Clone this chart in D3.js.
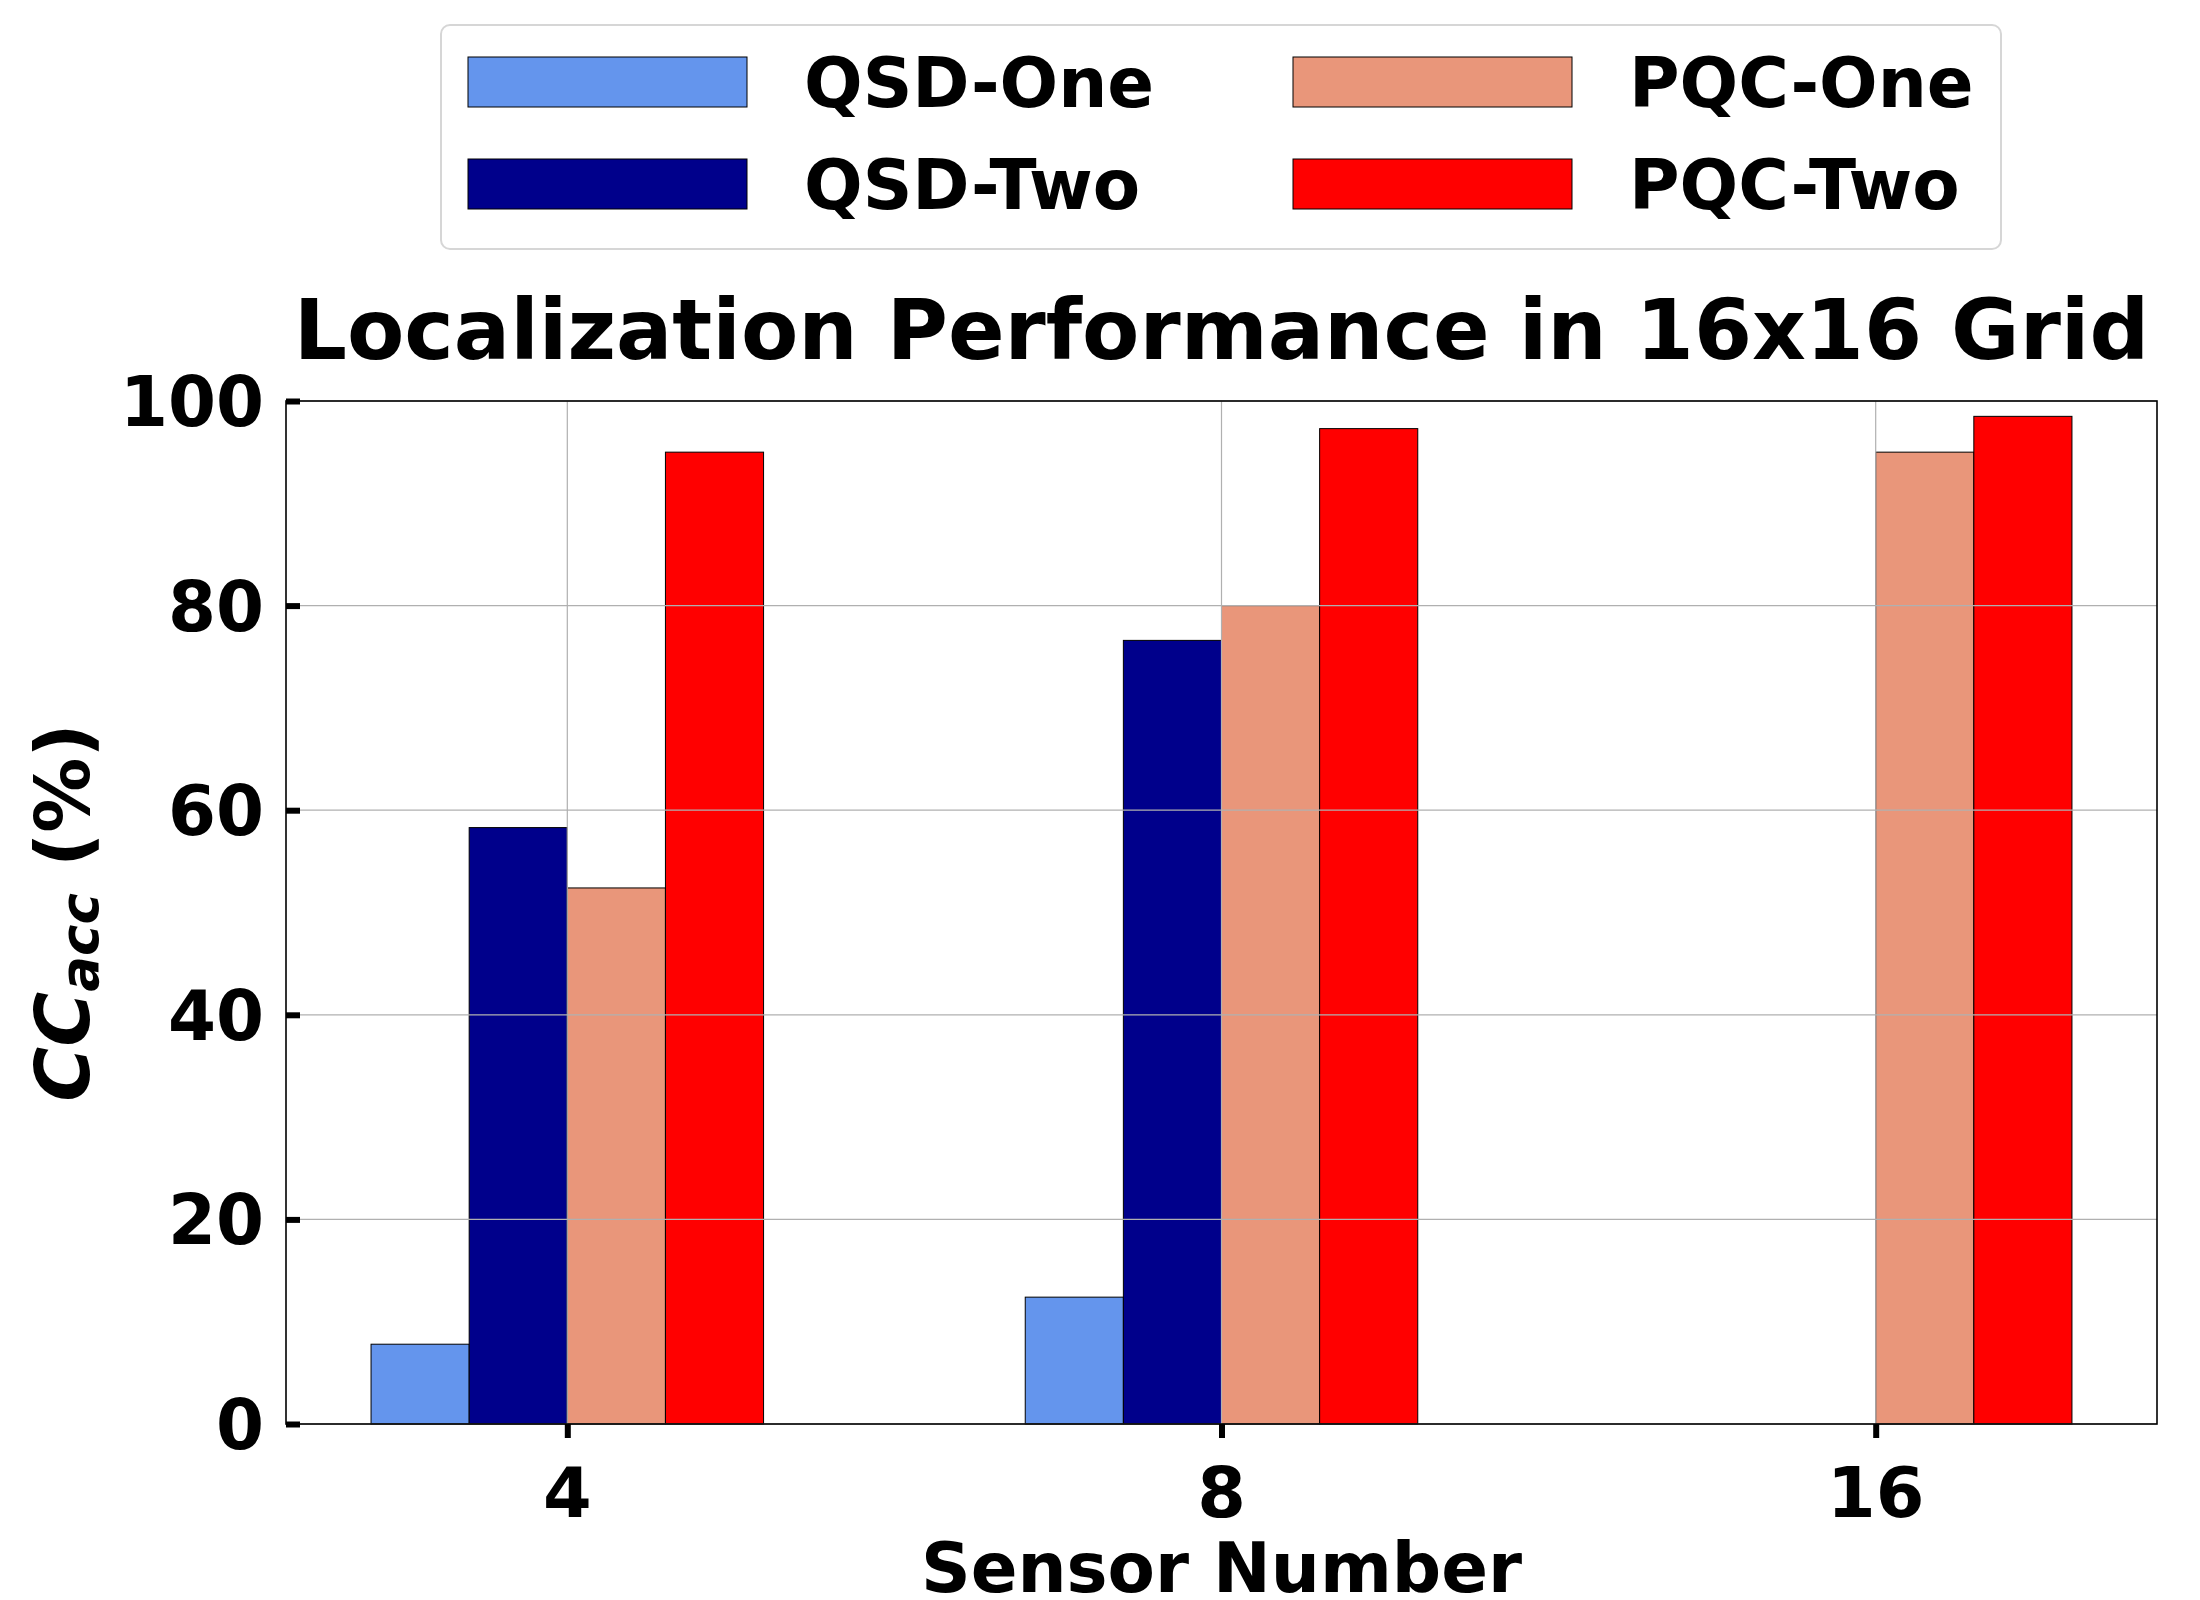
<!DOCTYPE html>
<html>
<head>
<meta charset="utf-8">
<script src="https://cdn.jsdelivr.net/npm/d3@7"></script>
<style>
    body { margin: 0; background: #fff; }
    text { font-family: "DejaVu Sans", sans-serif; font-weight: bold; fill: #000; }
</style>
</head>
<body>
<script>
(function(){

    //chart data
    var categories = ["4", "8", "16"];              //sensor numbers on the x axis
    var seriesNames = ["QSD-One", "QSD-Two", "PQC-One", "PQC-Two"];
    var qsdOne = [7.8, 12.4, 0];
    var qsdTwo = [58.3, 76.6, 0];
    var pqcOne = [52.4, 80.0, 95.0];
    var pqcTwo = [95.0, 97.3, 98.5];
    var yTicks = [0, 20, 40, 60, 80, 100];
    var seriesColors = ["#6495ED", "#00008B", "#E9967A", "#FF0000"];

    var seriesValues = [qsdOne, qsdTwo, pqcOne, pqcTwo];

    window.onload = setChart();

function setChart(){

    //frame dimensions
    var width = 2200,
        height = 1600;

    //plot area
    var left = 286, right = 2157, top = 401, bottom = 1424;
    var barWidth = 0.15; //in category units

    var svg = d3.select("body")
        .append("svg")
        .attr("width", width)
        .attr("height", height);

    //x scale over category index, with matplotlib style 5% margins
    var lo = -1.5 * barWidth - barWidth / 2,
        hi = (categories.length - 1) + 1.5 * barWidth + barWidth / 2,
        pad = (hi - lo) * 0.05;
    var x = d3.scaleLinear()
        .domain([lo - pad, hi + pad])
        .range([left, right]);

    var y = d3.scaleLinear()
        .domain([0, 100])
        .range([bottom, top]);

    //flatten series into bar records
    var bars = [];
    seriesValues.forEach(function(vals, j){
        vals.forEach(function(v, i){
            bars.push({series: j, cat: i, value: v});
        });
    });

    //bars
    svg.selectAll(".bar")
        .data(bars)
        .enter()
        .append("rect")
        .attr("class", "bar")
        .attr("x", function(d){ return x(d.cat + (d.series - 2) * barWidth); })
        .attr("width", function(d){ return x(barWidth) - x(0); })
        .attr("y", function(d){ return y(d.value); })
        .attr("height", function(d){ return y(0) - y(d.value); })
        .attr("fill", function(d){ return seriesColors[d.series]; })
        .attr("stroke", "#000")
        .attr("stroke-width", 1);

    //grid lines sit on top of the bars in the reference
    svg.selectAll(".hgrid")
        .data(yTicks)
        .enter()
        .append("line")
        .attr("class", "hgrid")
        .attr("x1", left).attr("x2", right)
        .attr("y1", function(d){ return y(d); })
        .attr("y2", function(d){ return y(d); })
        .attr("stroke", "#b0b0b0")
        .attr("stroke-width", 1.2);

    svg.selectAll(".vgrid")
        .data(categories)
        .enter()
        .append("line")
        .attr("class", "vgrid")
        .attr("x1", function(d, i){ return x(i); })
        .attr("x2", function(d, i){ return x(i); })
        .attr("y1", top).attr("y2", bottom)
        .attr("stroke", "#b0b0b0")
        .attr("stroke-width", 1.2);

    //frame
    svg.append("rect")
        .attr("x", left).attr("y", top)
        .attr("width", right - left)
        .attr("height", bottom - top)
        .attr("fill", "none")
        .attr("stroke", "#000")
        .attr("stroke-width", 1.6);

    //y axis: ticks point inward
    var yAxis = d3.axisRight(y)
        .tickValues(yTicks)
        .tickSize(14)
        .tickFormat("");
    var yg = svg.append("g")
        .attr("transform", "translate(" + left + ",0)")
        .call(yAxis);
    yg.select(".domain").remove();
    yg.selectAll("line").attr("stroke", "#000").attr("stroke-width", 6);

    svg.selectAll(".ylab")
        .data(yTicks)
        .enter()
        .append("text")
        .attr("class", "ylab")
        .attr("x", 264)
        .attr("y", function(d){ return y(d) + 25; })
        .attr("text-anchor", "end")
        .style("font-size", "69px")
        .text(function(d){ return d; });

    //x axis: ticks point outward
    var xAxis = d3.axisBottom(x)
        .tickValues(d3.range(categories.length))
        .tickSize(14)
        .tickFormat("");
    var xg = svg.append("g")
        .attr("transform", "translate(0," + bottom + ")")
        .call(xAxis);
    xg.select(".domain").remove();
    xg.selectAll("line").attr("stroke", "#000").attr("stroke-width", 6);

    svg.selectAll(".xlab")
        .data(categories)
        .enter()
        .append("text")
        .attr("class", "xlab")
        .attr("x", function(d, i){ return x(i); })
        .attr("y", 1517)
        .attr("text-anchor", "middle")
        .style("font-size", "70px")
        .text(function(d){ return d; });

    //axis titles
    var mid = (left + right) / 2;
    svg.append("text")
        .attr("x", mid)
        .attr("y", 1592)
        .attr("text-anchor", "middle")
        .style("font-size", "69px")
        .text("Sensor Number");

    var yTitle = svg.append("text")
        .attr("transform", "translate(89," + ((top + bottom) / 2) + ") rotate(-90)")
        .attr("text-anchor", "middle")
        .style("font-size", "75px");
    yTitle.append("tspan").style("font-style", "italic").text("CC");
    yTitle.append("tspan").style("font-style", "italic").style("font-size", "53px")
        .attr("dy", 9).text("acc");
    yTitle.append("tspan").attr("dy", -9).text("\u00a0(%)");

    //chart title
    svg.append("text")
        .attr("x", mid)
        .attr("y", 359)
        .attr("text-anchor", "middle")
        .style("font-size", "83.5px")
        .text("Localization Performance in 16x16 Grid");

    setLegend(svg);
};

function setLegend(svg){
    //legend frame
    svg.append("rect")
        .attr("x", 441).attr("y", 25)
        .attr("width", 1560).attr("height", 224)
        .attr("rx", 9).attr("ry", 9)
        .attr("fill", "#fff")
        .attr("fill-opacity", 0.8)
        .attr("stroke", "#d6d6d6")
        .attr("stroke-width", 2);

    //two columns, two rows
    var colX = [468, 1293],
        rowY = [57, 159];

    var items = svg.selectAll(".legendItem")
        .data(seriesNames)
        .enter()
        .append("g")
        .attr("class", "legendItem")
        .attr("transform", function(d, i){
            return "translate(" + colX[Math.floor(i / 2)] + "," + rowY[i % 2] + ")";
        });

    items.append("rect")
        .attr("width", 279)
        .attr("height", 50)
        .attr("fill", function(d){ return seriesColors[seriesNames.indexOf(d)]; })
        .attr("stroke", "#000")
        .attr("stroke-width", 1);

    items.append("text")
        .attr("x", 336)
        .attr("y", 50)
        .style("font-size", "69px")
        .text(function(d){ return d; });
};

})();
</script>
</body>
</html>
